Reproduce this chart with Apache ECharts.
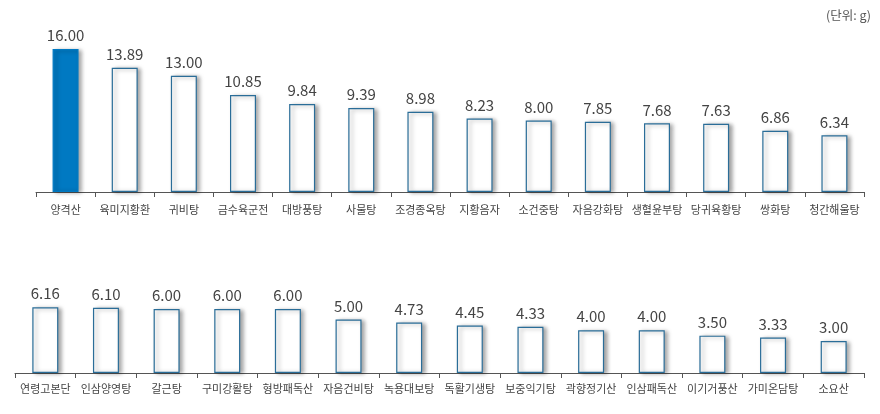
<!DOCTYPE html>
<html>
<head>
<meta charset="utf-8">
<script src="https://cdn.jsdelivr.net/npm/echarts@6/dist/echarts.min.js"></script>
<style>
html,body{margin:0;padding:0;background:#fff;}
#c{width:880px;height:414px;}
</style>
</head>
<body>
<div id="c"></div>
<script>
const topCategories = ['양격산','육미지황환','귀비탕','금수육군전','대방풍탕','사물탕','조경종옥탕','지황음자','소건중탕','자음강화탕','생혈윤부탕','당귀육황탕','쌍화탕','청간해울탕'];
const topValues = [16.00,13.89,13.00,10.85,9.84,9.39,8.98,8.23,8.00,7.85,7.68,7.63,6.86,6.34];
const bottomCategories = ['연령고본단','인삼양영탕','갈근탕','구미강활탕','형방패독산','자음건비탕','녹용대보탕','독활기생탕','보중익기탕','곽향정기산','인삼패독산','이기거풍산','가미온담탕','소요산'];
const bottomValues = [6.16,6.10,6.00,6.00,6.00,5.00,4.73,4.45,4.33,4.00,4.00,3.50,3.33,3.00];
const highlightIndex = 0;
const unitText = '(단위: g)';

const FONT = "'Noto Sans CJK KR', 'Noto Sans', sans-serif";
const blue = '#0079C2';
const border = '#2a6d98';

function styled(vals, hi) {
  return vals.map((v, i) => ({
    value: v,
    itemStyle: i === hi ? {color: blue, borderColor: blue} : {}
  }));
}

function xAxis(gridIndex, cats, margin) {
  return {
    type: 'category', gridIndex, data: cats,
    axisLine: {lineStyle: {color: '#555', width: 1}},
    axisTick: {show: true, length: 5, lineStyle: {color: '#555'}},
    axisLabel: {interval: 0, color: '#444', fontSize: 11, fontFamily: FONT, margin: margin}
  };
}
function yAxis(gridIndex, max) {
  return {
    type: 'value', gridIndex, min: 0, max: max,
    show: false, splitLine: {show: false}
  };
}
function barSeries(idx, vals, hi) {
  return {
    type: 'bar', xAxisIndex: idx, yAxisIndex: idx,
    data: styled(vals, hi),
    barWidth: 26,
    itemStyle: {
      color: '#fff', borderColor: border, borderWidth: 1.2,
      shadowColor: 'rgba(0,0,0,0.35)', shadowBlur: 4, shadowOffsetX: 3, shadowOffsetY: 1
    },
    label: {
      show: true, position: 'top', distance: 6,
      formatter: p => p.value.toFixed(2),
      color: '#444', fontSize: 15, fontFamily: FONT
    },
    animation: false
  };
}

const chart = echarts.init(document.getElementById('c'));
chart.setOption({
  animation: false,
  graphic: [{
    type: 'text', right: 9, top: 9,
    style: {text: unitText, fill: '#555', fontSize: 12.5, fontFamily: FONT}
  }],
  grid: [
    {left: 36, right: 16, top: 49, bottom: 222},
    {left: 15, right: 16, top: 303.6, bottom: 41}
  ],
  xAxis: [xAxis(0, topCategories, 12), xAxis(1, bottomCategories, 10)],
  yAxis: [yAxis(0, 16), yAxis(1, 6.5)],
  series: [barSeries(0, topValues, highlightIndex), barSeries(1, bottomValues, -1)]
});
</script>
</body>
</html>
